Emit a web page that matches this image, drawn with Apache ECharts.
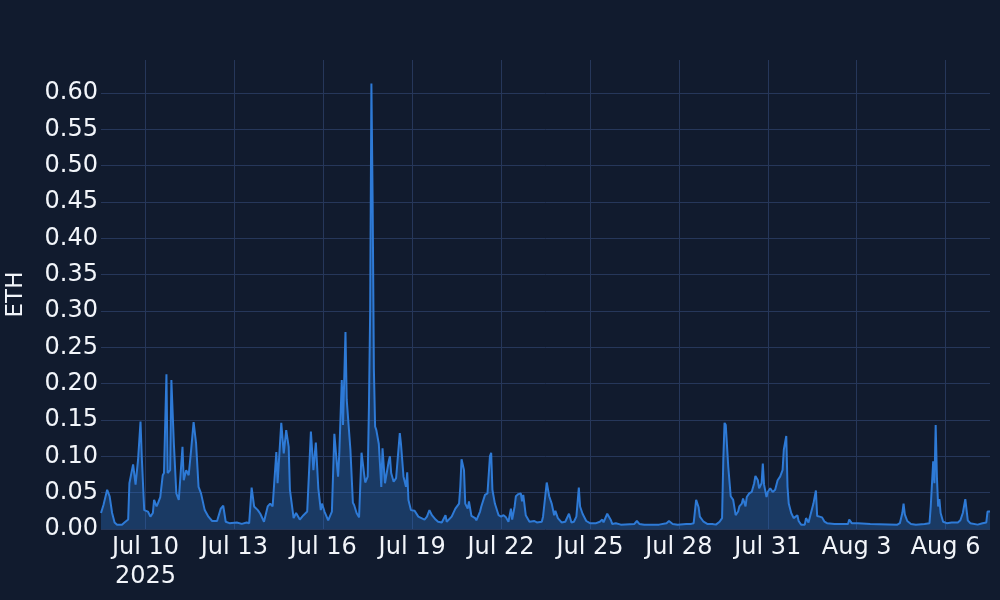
<!DOCTYPE html>
<html>
<head>
<meta charset="utf-8">
<script src="https://cdn.jsdelivr.net/npm/echarts@6/dist/echarts.min.js"></script>
<style>
html,body{margin:0;padding:0;background:#111b2e;}
#chart{width:1000px;height:600px;}
</style>
</head>
<body>
<div id="chart"></div>
<script>
// Hours after 2025-07-08 12:00 (local) at which values were read
const hours = [0,2,5,7,9,11,13,17,19,22,23,26,28,30,32,33,35,38,40,42,43,45,46,48,50,51,53,54,56,57,59,61,63,66,67,69,71,73,75,77,79,81,84,87,90,94,97,99,101,104,110,114,118,120,122,124,127,129,132,135,137,139,142,143,146,148,150,152,153,156,158,161,164,167,170,172,174,176,178,179,181,184,187,189,191,192,193,195,196,198,199,200,202,204,205,207,209,211,213,214,216,217,218,219,220,221,222,223,225,226,227,228,230,231,233,234,235,237,239,242,243,245,247,248,249,251,254,257,258,262,264,266,268,271,273,276,279,280,284,287,290,291,292,294,295,297,298,300,303,304,307,308,311,313,315,316,317,319,322,324,326,328,330,332,333,335,336,338,340,341,342,344,347,351,353,357,358,361,363,365,367,368,370,373,376,379,381,383,385,387,388,390,393,396,401,404,406,407,410,413,414,417,421,432,434,436,440,452,458,460,463,467,474,478,480,482,484,485,488,491,495,498,501,503,504,505,506,508,510,512,514,516,517,519,520,522,523,525,527,529,530,532,533,535,536,537,539,540,542,544,546,548,550,552,553,555,556,557,559,561,564,565,567,570,571,573,575,577,579,580,582,584,586,588,594,605,606,608,613,623,645,647,649,650,651,653,656,660,667,671,672,674,675,676,677,678,679,680,682,685,689,694,696,698,700,702,704,710,714,717,718,720];
const eth = [0.022,0.033,0.054,0.045,0.022,0.009,0.006,0.006,0.009,0.013,0.063,0.089,0.061,0.095,0.148,0.100,0.026,0.024,0.017,0.022,0.040,0.031,0.035,0.044,0.074,0.077,0.213,0.077,0.081,0.205,0.118,0.049,0.040,0.113,0.067,0.081,0.074,0.109,0.147,0.118,0.058,0.049,0.026,0.017,0.011,0.011,0.028,0.032,0.010,0.008,0.009,0.007,0.009,0.008,0.057,0.031,0.026,0.021,0.010,0.031,0.035,0.031,0.106,0.063,0.146,0.104,0.136,0.113,0.054,0.015,0.022,0.013,0.019,0.024,0.134,0.081,0.119,0.056,0.026,0.035,0.024,0.012,0.024,0.131,0.090,0.072,0.104,0.205,0.143,0.271,0.178,0.178,0.109,0.036,0.033,0.022,0.016,0.105,0.077,0.064,0.072,0.168,0.300,0.613,0.450,0.220,0.141,0.136,0.117,0.119,0.058,0.111,0.063,0.063,0.093,0.100,0.077,0.065,0.070,0.132,0.116,0.072,0.058,0.078,0.040,0.026,0.025,0.017,0.018,0.013,0.017,0.026,0.019,0.013,0.010,0.009,0.019,0.010,0.017,0.028,0.035,0.058,0.096,0.081,0.035,0.028,0.038,0.018,0.015,0.012,0.024,0.031,0.047,0.049,0.100,0.105,0.054,0.035,0.019,0.017,0.019,0.016,0.010,0.028,0.013,0.031,0.045,0.048,0.049,0.038,0.047,0.019,0.010,0.011,0.009,0.010,0.017,0.064,0.045,0.035,0.019,0.025,0.015,0.009,0.010,0.021,0.009,0.010,0.017,0.057,0.031,0.021,0.011,0.008,0.008,0.010,0.013,0.009,0.021,0.012,0.007,0.008,0.006,0.007,0.011,0.007,0.006,0.006,0.008,0.011,0.007,0.006,0.007,0.007,0.008,0.040,0.030,0.017,0.010,0.007,0.007,0.006,0.010,0.015,0.095,0.146,0.143,0.086,0.045,0.040,0.019,0.024,0.031,0.035,0.042,0.031,0.044,0.049,0.051,0.063,0.073,0.067,0.056,0.063,0.090,0.061,0.044,0.051,0.056,0.051,0.054,0.067,0.072,0.081,0.109,0.128,0.058,0.035,0.022,0.015,0.019,0.011,0.006,0.006,0.015,0.009,0.022,0.035,0.053,0.018,0.017,0.016,0.010,0.008,0.007,0.007,0.013,0.008,0.008,0.007,0.006,0.008,0.022,0.035,0.020,0.011,0.007,0.006,0.007,0.008,0.031,0.093,0.063,0.143,0.072,0.031,0.041,0.022,0.010,0.008,0.009,0.009,0.012,0.022,0.041,0.012,0.008,0.006,0.008,0.009,0.024,0.024];
const yTicks = [0,0.05,0.10,0.15,0.20,0.25,0.30,0.35,0.40,0.45,0.50,0.55,0.60];
const xTickDays = [[6,10],[6,13],[6,16],[6,19],[6,22],[6,25],[6,28],[6,31],[7,3],[7,6]];
const monthNames = ['Jan','Feb','Mar','Apr','May','Jun','Jul','Aug','Sep','Oct','Nov','Dec'];

const start = new Date(2025,6,8,12,0,0).getTime();
const H = 3600000;
const seriesData = hours.map((h,i)=>[start + h*H, eth[i]]);
const xTicks = xTickDays.map(d=>new Date(2025,d[0],d[1]).getTime());

const chart = echarts.init(document.getElementById('chart'), null, {renderer:'canvas'});
const FONT = 'DejaVu Sans';
chart.setOption({
  backgroundColor:'#111b2e',
  animation:false,
  grid:{left:101,right:10,top:60,bottom:71,outerBoundsMode:'none',containLabel:false},
  xAxis:{
    type:'value',
    min:start, max:start+720*H,
    axisLine:{show:false}, axisTick:{show:false, customValues:xTicks},
    splitLine:{show:true, lineStyle:{color:'#26375a', width:1}},
    axisLabel:{
      customValues:xTicks,
      color:'#f2f5fa', fontFamily:FONT, fontSize:24, lineHeight:29, margin:4,
      formatter:function(v){
        const d = new Date(v);
        const s = monthNames[d.getMonth()]+' '+d.getDate();
        return (d.getMonth()===6 && d.getDate()===10) ? s+'\n2025' : s;
      }
    }
  },
  yAxis:{
    type:'value', min:0, max:0.6454,
    name:'ETH', nameLocation:'middle', nameGap:73,
    nameTextStyle:{color:'#f2f5fa', fontFamily:FONT, fontSize:23},
    axisLine:{show:false}, axisTick:{show:false, customValues:yTicks},
    splitLine:{show:true, lineStyle:{color:'#26375a', width:1}},
    axisLabel:{customValues:yTicks, color:'#f2f5fa', fontFamily:FONT, fontSize:24, margin:3,
      formatter:v=>v.toFixed(2)}
  },
  series:[{
    type:'line', data:seriesData, showSymbol:false, symbol:'none',
    lineStyle:{color:'#2e7ad6', width:2},
    itemStyle:{color:'#2e7ad6'},
    areaStyle:{color:'rgba(46,122,214,0.47)'}
  }]
});
if (hours.length !== eth.length) {
  setTimeout(function(){ throw new Error('length mismatch ' + hours.length + ' vs ' + eth.length); }, 0);
}
</script>
</body>
</html>
